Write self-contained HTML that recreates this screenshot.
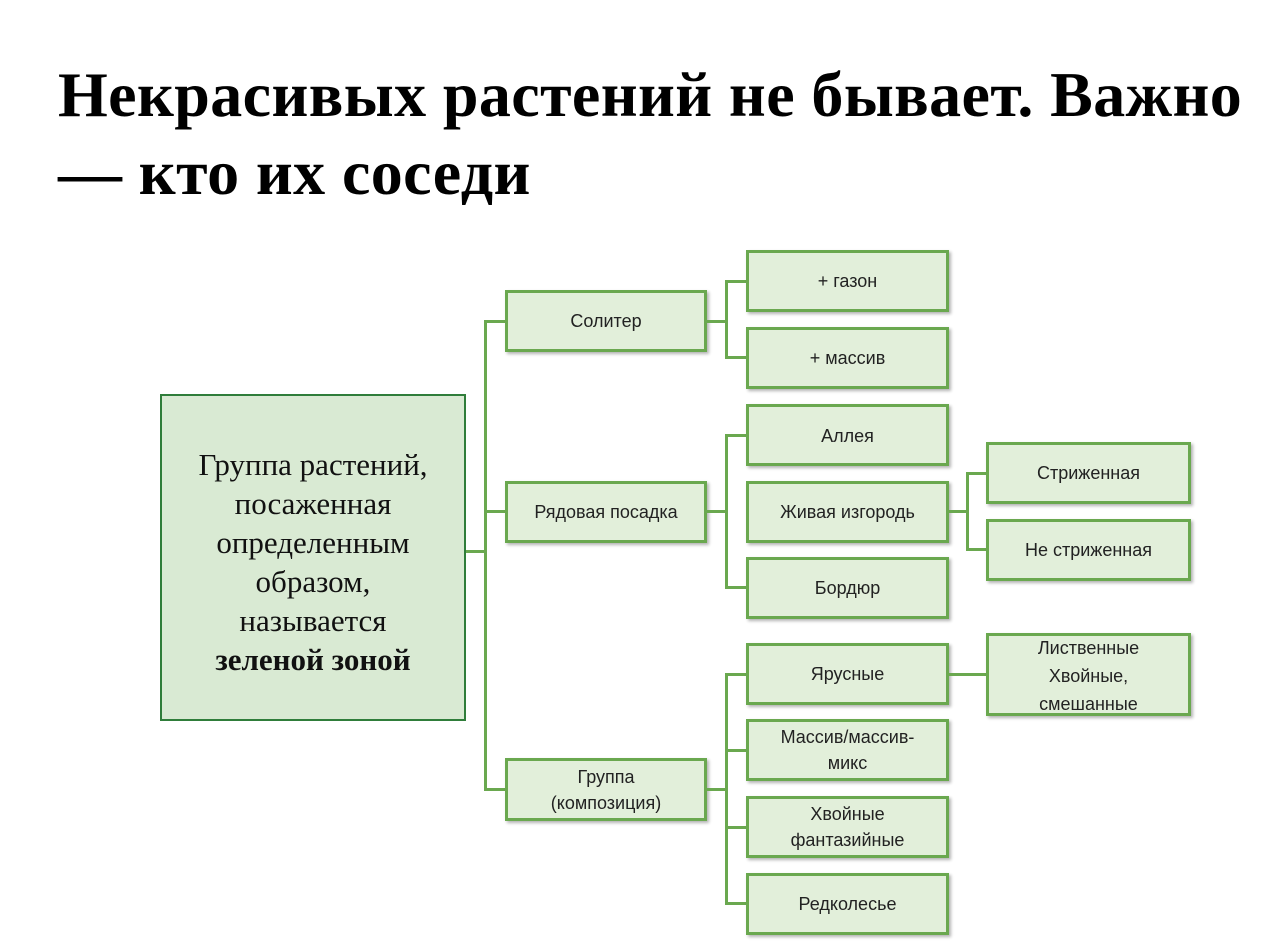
<!DOCTYPE html>
<html><head><meta charset="utf-8"><style>
body{margin:0;width:1280px;height:948px;background:#fff;position:relative;overflow:hidden;font-family:"Liberation Sans","DejaVu Sans",sans-serif}
h1{position:absolute;left:58px;top:56px;margin:0;font:bold 64px/78px "Liberation Serif",serif;letter-spacing:0.4px;color:#000;width:1222px;white-space:nowrap}
.b{position:absolute;box-sizing:border-box;background:#e2efda;border:3px solid #6aa84f;box-shadow:2px 2px 3px rgba(0,0,0,.3);display:flex;align-items:center;justify-content:center;text-align:center;font-size:18px;line-height:26px;color:#222}
.m{position:absolute;left:160px;top:394px;width:306px;height:327px;box-sizing:border-box;background:#d9ead3;border:2px solid #2f7d3a;display:flex;align-items:center;justify-content:center;text-align:center;font:31px/39px "Liberation Serif",serif;color:#111}
.l{position:absolute;background:#6aa84f}
</style></head><body>
<h1>Некрасивых растений не бывает. Важно<br>— кто их соседи</h1>
<div class="m"><div style="margin-top:8px">Группа растений,<br>посаженная<br>определенным<br>образом,<br>называется<br><b>зеленой зоной</b></div></div>
<div class="l" style="left:466px;top:550px;width:20px;height:3px"></div>
<div class="l" style="left:484px;top:320px;width:3px;height:471px"></div>
<div class="l" style="left:484px;top:320px;width:22px;height:3px"></div>
<div class="l" style="left:484px;top:510px;width:22px;height:3px"></div>
<div class="l" style="left:484px;top:788px;width:22px;height:3px"></div>
<div class="b" style="left:505px;top:290px;width:202px;height:62px">Солитер</div>
<div class="b" style="left:505px;top:481px;width:202px;height:62px">Рядовая посадка</div>
<div class="b" style="left:505px;top:758px;width:202px;height:63px">Группа<br>(композиция)</div>
<div class="l" style="left:706px;top:320px;width:21px;height:3px"></div>
<div class="l" style="left:725px;top:280px;width:3px;height:79px"></div>
<div class="l" style="left:725px;top:280px;width:22px;height:3px"></div>
<div class="l" style="left:725px;top:356px;width:22px;height:3px"></div>
<div class="l" style="left:706px;top:510px;width:21px;height:3px"></div>
<div class="l" style="left:725px;top:434px;width:3px;height:155px"></div>
<div class="l" style="left:725px;top:434px;width:22px;height:3px"></div>
<div class="l" style="left:725px;top:586px;width:22px;height:3px"></div>
<div class="l" style="left:706px;top:788px;width:21px;height:3px"></div>
<div class="l" style="left:725px;top:673px;width:3px;height:231px"></div>
<div class="l" style="left:725px;top:673px;width:22px;height:3px"></div>
<div class="l" style="left:725px;top:749px;width:22px;height:3px"></div>
<div class="l" style="left:725px;top:826px;width:22px;height:3px"></div>
<div class="l" style="left:725px;top:902px;width:22px;height:3px"></div>
<div class="b" style="left:746px;top:250px;width:203px;height:62px">+ газон</div>
<div class="b" style="left:746px;top:327px;width:203px;height:62px">+ массив</div>
<div class="b" style="left:746px;top:404px;width:203px;height:62px;align-items:flex-start;padding-top:16px">Аллея</div>
<div class="b" style="left:746px;top:481px;width:203px;height:62px">Живая изгородь</div>
<div class="b" style="left:746px;top:557px;width:203px;height:62px">Бордюр</div>
<div class="b" style="left:746px;top:643px;width:203px;height:62px">Ярусные</div>
<div class="b" style="left:746px;top:719px;width:203px;height:62px">Массив/массив-<br>микс</div>
<div class="b" style="left:746px;top:796px;width:203px;height:62px">Хвойные<br>фантазийные</div>
<div class="b" style="left:746px;top:873px;width:203px;height:62px">Редколесье</div>
<div class="l" style="left:948px;top:510px;width:20px;height:3px"></div>
<div class="l" style="left:966px;top:472px;width:3px;height:78px"></div>
<div class="l" style="left:966px;top:472px;width:21px;height:3px"></div>
<div class="l" style="left:966px;top:548px;width:21px;height:3px"></div>
<div class="l" style="left:948px;top:673px;width:39px;height:3px"></div>
<div class="b" style="left:986px;top:442px;width:205px;height:62px">Стриженная</div>
<div class="b" style="left:986px;top:519px;width:205px;height:62px">Не стриженная</div>
<div class="b" style="left:986px;top:633px;width:205px;height:83px;line-height:28px;padding-top:2px">Лиственные<br>Хвойные,<br>смешанные</div>
</body></html>
